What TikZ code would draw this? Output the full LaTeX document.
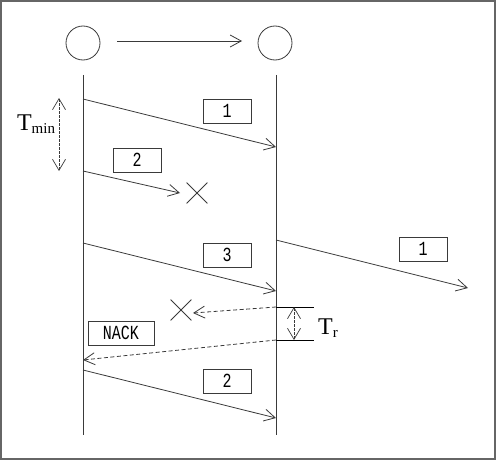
\documentclass[tikz,border=0pt]{standalone}
\usepackage{fontspec}
\setmainfont{Liberation Serif}
\newfontfamily\boxfont[FakeStretch=0.75]{Liberation Mono}
\usetikzlibrary{arrows.meta,shapes.misc}
\definecolor{ln}{HTML}{3A3A3A}
\tikzset{
  msg/.style={draw=ln,line width=0.8pt,-{Straight Barb[length=11pt,width=12pt,line width=0.8pt]}},
  dmsg/.style={msg,dashed,dash pattern=on 4pt off 2.5pt},
  life/.style={draw=ln,line width=1pt},
  lbl/.style={draw=ln,line width=0.8pt,minimum width=48pt,minimum height=24pt,inner sep=0pt,font=\boxfont\fontsize{20}{20}\selectfont},
  lost/.style={cross out,draw=ln,line width=0.8pt,minimum size=20pt,inner sep=0pt},
  ent/.style={circle,draw=ln,line width=0.8pt,minimum size=34pt,inner sep=0pt},
  span/.style={draw=ln,line width=0.7pt,dash pattern=on 2.5pt off 1.5pt,{Straight Barb[length=11pt,width=13pt,line width=0.7pt]}-{Straight Barb[length=11pt,width=13pt,line width=0.7pt]}}
}
\begin{document}
\begin{tikzpicture}[x=1pt,y=-1pt]
\useasboundingbox (0,0) rectangle (496,460);
\draw[draw=gray!80!black,line width=2pt] (1,1) rectangle (495,459);
% entities
\node[ent] (cA) at (83,43) {};
\node[ent] (cB) at (275,43) {};
\coordinate (topL) at (117,41);
\coordinate (topR) at (242,41);
\draw[msg] (topL) -- (topR);
% lifelines
\coordinate (LT) at (83,75); \coordinate (LB) at (83,435);
\coordinate (RT) at (276,75); \coordinate (RB) at (276,435);
\draw[life] (LT) -- (LB);
\draw[life] (RT) -- (RB);
% message 1
\coordinate (m1s) at (83,99); \coordinate (m1e) at (276,147);
\draw[msg] (m1s) -- (m1e);
\node[lbl] (b1) at (227,111) {1};
% Tmin
\coordinate (t1) at (59,98); \coordinate (t2) at (59,171);
\draw[span] (t1) -- (t2);
\node[font=\fontsize{24}{24}\selectfont,inner sep=0pt] (tmin) at (36,124) {T\raisebox{-3pt}{\fontsize{15}{15}\selectfont min}};
% message 2 lost
\coordinate (m2s) at (83,171); \coordinate (m2e) at (180,193);
\draw[msg] (m2s) -- (m2e);
\node[lost] (x1) at (197,193) {};
\node[lbl] (b2) at (137,160) {2};
% message 3
\coordinate (m3s) at (83,243); \coordinate (m3e) at (276,291);
\draw[msg] (m3s) -- (m3e);
\node[lbl] (b3) at (227,255) {3};
% forward 1
\coordinate (o1s) at (276,240); \coordinate (o1e) at (468,288);
\draw[msg] (o1s) -- (o1e);
\node[lbl] (b1b) at (423,249) {1};
% lost NACK
\coordinate (n1s) at (276,307); \coordinate (n1e) at (193,313);
\draw[dmsg] (n1s) -- (n1e);
\node[lost] (x2) at (181,310) {};
% Tr
\coordinate (tr1) at (314,307); \coordinate (tr2) at (314,340);
\coordinate (n2s) at (276,340);
\draw[draw=black,line width=0.9pt] (n1s) -- (tr1);
\draw[draw=black,line width=0.9pt] (n2s) -- (tr2);
\coordinate (ta) at (294,307); \coordinate (tb) at (294,340);
\draw[span] (ta) -- (tb);
\node[font=\fontsize{24}{24}\selectfont,inner sep=0pt] (tr) at (328,328) {T\raisebox{-3pt}{\fontsize{15}{15}\selectfont r}};
% NACK
\coordinate (n2e) at (83,360);
\draw[dmsg] (n2s) -- (n2e);
\node[lbl,minimum width=66pt] (nack) at (121,333) {NACK};
% resend 2
\coordinate (r2s) at (83,370); \coordinate (r2e) at (276,418);
\draw[msg] (r2s) -- (r2e);
\node[lbl] (b2b) at (227,381) {2};
\end{tikzpicture}
\end{document}
